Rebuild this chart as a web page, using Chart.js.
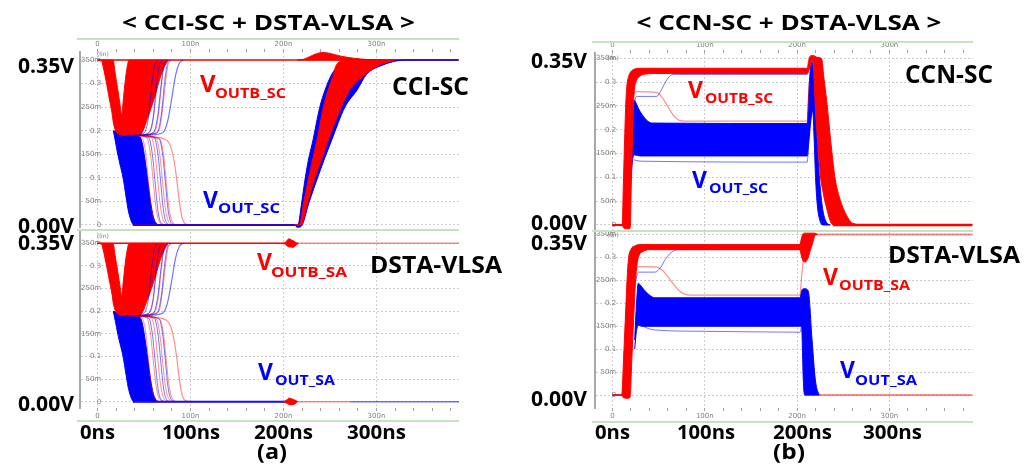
<!DOCTYPE html>
<html>
<head>
<meta charset="utf-8">
<script src="https://cdn.jsdelivr.net/npm/chart.js@4.4.0/dist/chart.umd.min.js"></script>
<style>
  html, body { margin: 0; padding: 0; background: #fff; }
  #fig { position: relative; width: 1035px; height: 468px; overflow: hidden; background: #fff; }
  #fig canvas { position: absolute; }
  .rule { position: absolute; height: 2px; background: #c6e2c0; }
  #labels { position: absolute; left: 0; top: 0; pointer-events: none; }
</style>
</head>
<body>
<div id="fig">
  <canvas id="aTop" width="382" height="189" style="left:77px;top:39px"></canvas>
  <canvas id="aBot" width="382" height="190" style="left:77px;top:231px"></canvas>
  <canvas id="bTop" width="381" height="188" style="left:592px;top:42px"></canvas>
  <canvas id="bBot" width="381" height="190" style="left:592px;top:232px"></canvas>
  <div class="rule" style="left:77px;top:38px;width:382px"></div>
  <div class="rule" style="left:77px;top:229px;width:382px"></div>
  <div class="rule" style="left:77px;top:420px;width:382px"></div>
  <div class="rule" style="left:592px;top:41px;width:381px"></div>
  <div class="rule" style="left:592px;top:230px;width:381px"></div>
  <div class="rule" style="left:592px;top:421px;width:381px"></div>

  <svg id="labels" width="1035" height="468" font-family="'Open Sans','Noto Sans',sans-serif" font-weight="700" fill="#000">
    <text x="268.5" y="30" font-size="21" text-anchor="middle" textLength="293" lengthAdjust="spacingAndGlyphs">&lt; CCI-SC + DSTA-VLSA &gt;</text>
    <text x="789" y="30" font-size="21" text-anchor="middle" textLength="305" lengthAdjust="spacingAndGlyphs">&lt; CCN-SC + DSTA-VLSA &gt;</text>

    <text x="74" y="73" font-size="21" text-anchor="end" textLength="56" lengthAdjust="spacingAndGlyphs">0.35V</text>
    <text x="74" y="233" font-size="21" text-anchor="end" textLength="56" lengthAdjust="spacingAndGlyphs">0.00V</text>
    <text x="74" y="250" font-size="21" text-anchor="end" textLength="56" lengthAdjust="spacingAndGlyphs">0.35V</text>
    <text x="74" y="411" font-size="21" text-anchor="end" textLength="56" lengthAdjust="spacingAndGlyphs">0.00V</text>
    <text x="587" y="68" font-size="21" text-anchor="end" textLength="56" lengthAdjust="spacingAndGlyphs">0.35V</text>
    <text x="587" y="230" font-size="21" text-anchor="end" textLength="56" lengthAdjust="spacingAndGlyphs">0.00V</text>
    <text x="587" y="250" font-size="21" text-anchor="end" textLength="56" lengthAdjust="spacingAndGlyphs">0.35V</text>
    <text x="587" y="406" font-size="21" text-anchor="end" textLength="56" lengthAdjust="spacingAndGlyphs">0.00V</text>

    <text x="97.5" y="439" font-size="20" text-anchor="middle" textLength="35" lengthAdjust="spacingAndGlyphs">0ns</text>
    <text x="191" y="439" font-size="20" text-anchor="middle" textLength="58" lengthAdjust="spacingAndGlyphs">100ns</text>
    <text x="283.5" y="439" font-size="20" text-anchor="middle" textLength="59" lengthAdjust="spacingAndGlyphs">200ns</text>
    <text x="376.5" y="439" font-size="20" text-anchor="middle" textLength="59" lengthAdjust="spacingAndGlyphs">300ns</text>
    <text x="612.5" y="439" font-size="20" text-anchor="middle" textLength="35" lengthAdjust="spacingAndGlyphs">0ns</text>
    <text x="706" y="439" font-size="20" text-anchor="middle" textLength="58" lengthAdjust="spacingAndGlyphs">100ns</text>
    <text x="802.5" y="439" font-size="20" text-anchor="middle" textLength="59" lengthAdjust="spacingAndGlyphs">200ns</text>
    <text x="892.5" y="439" font-size="20" text-anchor="middle" textLength="59" lengthAdjust="spacingAndGlyphs">300ns</text>
    <text x="272" y="459" font-size="21" text-anchor="middle" textLength="30" lengthAdjust="spacingAndGlyphs">(a)</text>
    <text x="789" y="459" font-size="21" text-anchor="middle" textLength="32" lengthAdjust="spacingAndGlyphs">(b)</text>

    <text x="392" y="95" font-size="25" textLength="77" lengthAdjust="spacingAndGlyphs">CCI-SC</text>
    <text x="370" y="273" font-size="23" textLength="132" lengthAdjust="spacingAndGlyphs">DSTA-VLSA</text>
    <text x="905" y="83" font-size="25" textLength="88" lengthAdjust="spacingAndGlyphs">CCN-SC</text>
    <text x="888" y="263" font-size="23" textLength="132" lengthAdjust="spacingAndGlyphs">DSTA-VLSA</text>

    <g fill="#ff0000">
      <text x="200" y="92" font-size="24">V</text>
      <text x="215" y="98" font-size="15" textLength="71" lengthAdjust="spacingAndGlyphs">OUTB_SC</text>
      <text x="257" y="270" font-size="23">V</text>
      <text x="271" y="277" font-size="15" textLength="76" lengthAdjust="spacingAndGlyphs">OUTB_SA</text>
      <text x="688" y="98" font-size="23">V</text>
      <text x="705" y="103" font-size="15" textLength="68" lengthAdjust="spacingAndGlyphs">OUTB_SC</text>
      <text x="823" y="285" font-size="23">V</text>
      <text x="839" y="290" font-size="15" textLength="71" lengthAdjust="spacingAndGlyphs">OUTB_SA</text>
    </g>
    <g fill="#0000ff">
      <text x="203" y="208" font-size="23">V</text>
      <text x="218" y="213" font-size="15" textLength="62" lengthAdjust="spacingAndGlyphs">OUT_SC</text>
      <text x="258" y="380" font-size="23">V</text>
      <text x="275" y="385" font-size="15" textLength="60" lengthAdjust="spacingAndGlyphs">OUT_SA</text>
      <text x="692" y="188" font-size="23">V</text>
      <text x="709" y="193" font-size="15" textLength="59" lengthAdjust="spacingAndGlyphs">OUT_SC</text>
      <text x="840" y="378" font-size="23">V</text>
      <text x="855" y="385" font-size="15" textLength="62" lengthAdjust="spacingAndGlyphs">OUT_SA</text>
    </g>
    <g font-family="'DejaVu Sans',sans-serif" font-weight="400" font-size="6" fill="#7a7a7a">
      <text x="97" y="56">(lin)</text>
      <text x="97" y="238">(lin)</text>
      <text x="607" y="60">(lin)</text>
      <text x="607" y="237">(lin)</text>
    </g>
  </svg>
</div>

<script>
// ---------- axis ticks ----------
const xTicks = [0, 20, 40, 60, 80, 100, 120, 140, 160, 180, 200, 220, 240, 260, 280, 300, 320, 340, 360, 380];
const xTickLabels = { 0: '0', 100: '100n', 200: '200n', 300: '300n' };
const yTickValues = [0, 0.05, 0.1, 0.15, 0.2, 0.25, 0.3, 0.35];
const yTickLabels = ['0', '50m', '0.1', '150m', '0.2', '250m', '0.3', '350m'];

// ---------- (a) CCI-SC / DSTA-VLSA : evaluation phase (t in ns, V in volts) ----------
const aHighHead = [[0, 0.35], [212, 0.35]];
const aHighTail = [[212, 0.35], [389, 0.35]];
const aRedHi = [[0, 0.35], [16.7, 0.35], [19, 0.322], [22, 0.285], [24.5, 0.252], [26, 0.233], [27.5, 0.26], [29.5, 0.3], [31.5, 0.33], [34, 0.35], [76, 0.35]];
const aRedLo = [[0, 0.35], [4, 0.35], [6, 0.337], [8, 0.318], [10, 0.298], [12, 0.276], [14, 0.255], [15.6, 0.238], [17, 0.218], [19, 0.202], [22, 0.194], [30, 0.19], [45, 0.19], [49, 0.2], [53, 0.222], [58, 0.25], [63, 0.282], [67, 0.31], [71, 0.332], [76, 0.35]];
const aBlueHi = [[17, 0.2], [30, 0.192], [45, 0.188], [48, 0.175], [51, 0.14], [54, 0.095], [57, 0.05], [60, 0.018], [63, 0.004], [66, 0]];
const aBlueLo = [[17, 0.2], [19, 0.18], [22, 0.148], [25, 0.122], [27.5, 0.1], [29.5, 0.075], [31.5, 0.05], [33, 0.032], [35, 0.016], [37, 0.005], [39, 0], [66, 0]];
const aLowHead = [[38, 0], [214, 0]];
const aBlueRises = [
  [[40, 0.19], [50, 0.195], [55, 0.23], [58, 0.29], [61, 0.335], [65, 0.35]],
  [[40, 0.19], [55, 0.195], [60, 0.23], [63, 0.29], [66, 0.335], [70, 0.35]],
  [[40, 0.19], [60, 0.195], [65, 0.235], [68, 0.29], [71, 0.335], [75, 0.35]],
  [[40, 0.19], [64, 0.195], [69, 0.24], [72, 0.3], [75, 0.34], [79, 0.35]]
];
const aRedRises = [
  [[45, 0.19], [57, 0.2], [61, 0.24], [64, 0.3], [67, 0.34], [71, 0.35]],
  [[45, 0.19], [62, 0.2], [66, 0.24], [69, 0.3], [72, 0.34], [76, 0.35]],
  [[45, 0.19], [66, 0.2], [70, 0.245], [73, 0.3], [76, 0.34], [80, 0.35]]
];
const aBlueFalls = [
  [[40, 0.19], [55, 0.185], [59, 0.15], [62, 0.09], [65, 0.03], [69, 0.003], [75, 0]],
  [[40, 0.19], [61, 0.185], [65, 0.15], [68, 0.09], [71, 0.03], [75, 0.003], [80, 0]],
  [[40, 0.19], [66, 0.184], [70, 0.15], [73, 0.09], [76, 0.03], [80, 0.003], [85, 0]]
];
const aRedFalls = [
  [[40, 0.19], [48, 0.185], [52, 0.15], [55, 0.09], [58, 0.035], [62, 0.005], [68, 0]],
  [[40, 0.19], [53, 0.185], [57, 0.15], [60, 0.09], [63, 0.035], [67, 0.005], [73, 0]],
  [[40, 0.19], [58, 0.185], [62, 0.15], [65, 0.09], [68, 0.035], [72, 0.005], [78, 0]],
  [[40, 0.19], [63, 0.183], [67, 0.15], [70, 0.09], [73, 0.035], [77, 0.005], [83, 0]],
  [[40, 0.19], [67, 0.182], [71, 0.15], [74, 0.09], [77, 0.035], [81, 0.005], [87, 0]]
];
const aRedOutlier = [[30, 0.19], [47, 0.19], [65, 0.186], [74, 0.18], [78, 0.17], [82, 0.14], [85, 0.1], [88, 0.05], [91, 0.015], [95, 0.002], [102, 0]];
const aBlueOutlier = [[30, 0.19], [47, 0.19], [66, 0.193], [72, 0.2], [76, 0.225], [80, 0.27], [84, 0.318], [88, 0.343], [92, 0.35]];

// CCI-SC restore ramp after 210 ns
const aRampBlueHi = [[212, 0], [215.6, 0], [219, 0.04], [223, 0.095], [227, 0.14], [231.7, 0.18], [239, 0.25], [244.6, 0.286], [252, 0.32], [259, 0.338], [268, 0.35], [388, 0.35]];
const aRampBlueLo = [[212, 0], [215, -0.005], [219.5, -0.002], [227, 0.045], [235.7, 0.095], [244, 0.14], [251.8, 0.18], [266, 0.25], [279, 0.286], [289.5, 0.32], [305, 0.338], [317, 0.346], [330, 0.35], [388, 0.35]];
const aRampRedHi = [[212, 0], [217, 0], [221, 0.04], [226, 0.09], [231, 0.135], [236, 0.18], [243, 0.25], [248, 0.286], [253, 0.315], [257, 0.34], [268, 0.35], [320, 0.35]];
const aRampRedLo = [[212, 0], [219, 0], [225, 0.04], [232, 0.09], [240, 0.135], [248, 0.18], [262, 0.25], [271, 0.286], [285, 0.315], [304, 0.34], [320, 0.35]];
const aBumpHi = [[215, 0.35], [221, 0.351], [228, 0.357], [235, 0.363], [242, 0.366], [250, 0.364], [262, 0.358], [275, 0.354], [290, 0.351], [300, 0.35]];
const aBumpLo = [[215, 0.35], [300, 0.35]];

// DSTA-VLSA glitch at 205-215 ns, then hold
const aGlitchTopHi = [[200, 0.35], [202, 0.352], [204, 0.357], [206, 0.36], [208, 0.358], [210, 0.356], [212, 0.354], [214, 0.351], [216, 0.35]];
const aGlitchTopLo = [[200, 0.35], [202, 0.348], [204, 0.344], [206, 0.342], [208, 0.342], [210, 0.341], [212, 0.343], [214, 0.347], [216, 0.35]];
const aGlitchLowHi = [[200, 0], [203, 0.003], [206, 0.008], [209, 0.006], [212, 0.004], [215, 0]];
const aGlitchLowLo = [[200, 0], [203, -0.003], [206, -0.006], [209, -0.007], [212, -0.005], [215, 0]];
const aLowTailPink = [[212, 0], [272, 0]];
const aLowTailBlue = [[272, 0], [389, 0]];

// ---------- (b) CCN-SC ----------
const bTopRedHi = [[0, 0], [10.5, 0], [11.7, 0.08], [13, 0.17], [14.3, 0.25], [15.5, 0.29], [17.5, 0.312], [20, 0.322], [25, 0.328], [30, 0.329], [211, 0.329], [212.5, 0.345], [214, 0.354], [217, 0.356], [222, 0.352], [226.6, 0.349], [229, 0.31], [232, 0.262], [237.5, 0.157], [241, 0.1], [244.7, 0.066], [249, 0.04], [253.7, 0.02], [258, 0.007], [262.7, 0.002], [270, 0]];
const bTopRedLo = [[0, 0], [10.5, 0], [12, -0.006], [15, -0.008], [18, -0.008], [19.3, -0.004], [20.3, 0.08], [21.5, 0.17], [22.7, 0.25], [23.8, 0.285], [26, 0.303], [30, 0.313], [36, 0.317], [45, 0.318], [211, 0.318], [213, 0.326], [215.5, 0.34], [217.6, 0.345], [218.5, 0.31], [219.4, 0.262], [223, 0.157], [225.5, 0.1], [228.4, 0.066], [232, 0.035], [235.6, 0.01], [239, 0], [270, 0]];
const bTopBlueHi = [[20, 0.12], [22, 0.2], [23.5, 0.262], [25, 0.258], [28, 0.245], [32, 0.232], [36, 0.222], [42.5, 0.214], [211, 0.213], [212.5, 0.27], [214.5, 0.33], [216.5, 0.342], [218.5, 0.3], [220.5, 0.22], [222.5, 0.15], [225, 0.08], [228, 0.03], [232, 0.005], [236, 0]];
const bTopBlueLo = [[20, 0.1], [22, 0.14], [24, 0.147], [30, 0.145], [211, 0.145], [212.5, 0.17], [215, 0.22], [217, 0.24], [218.5, 0.18], [220, 0.1], [222, 0.04], [225, 0.008], [228, 0], [236, 0]];
const bTopBlueLow = [[23, 0.137], [30, 0.134], [211, 0.132], [213, 0.2]];
const bTopBlueRise = [[23, 0.25], [26, 0.27], [48, 0.27], [52, 0.28], [56, 0.295], [60, 0.308], [63, 0.314], [68, 0.316], [211, 0.316], [213, 0.33]];
const bTopRedLine = [[23, 0.275], [26, 0.28], [48, 0.278], [53, 0.27], [57, 0.258], [61, 0.245], [66, 0.23], [71, 0.221], [78, 0.218], [211, 0.218], [213, 0.3]];
const bTopZeroHead = [[0, 0], [11, 0]];
const bTopZeroTail = [[239, 0], [390, 0]];

// ---------- (b) DSTA-VLSA ----------
const bBotRedHi = [[0, 0], [10, 0], [12, 0.08], [14, 0.17], [16, 0.26], [17.5, 0.3], [20, 0.318], [24, 0.325], [30, 0.328], [203, 0.328], [204.5, 0.34], [206, 0.35], [208, 0.353], [219, 0.353], [222, 0.35]];
const bBotRedLo = [[0, 0], [10, 0], [12, -0.006], [17, -0.007], [19, -0.005], [21, 0.08], [23, 0.17], [25, 0.25], [27, 0.29], [29, 0.305], [33, 0.313], [40, 0.317], [203, 0.317], [204.5, 0.305], [206.6, 0.292], [209, 0.29], [212, 0.3], [215, 0.32], [217.4, 0.335], [219.2, 0.348], [222, 0.35]];
const bBotBlueHi = [[24, 0.12], [26, 0.2], [28, 0.244], [30, 0.24], [34, 0.23], [40, 0.218], [46, 0.212], [203, 0.212], [205, 0.228], [208, 0.232], [211, 0.23], [212.6, 0.222], [214, 0.19], [215.5, 0.14], [217, 0.1], [218.5, 0.06], [220, 0.03], [222, 0.01], [224, 0]];
const bBotBlueLo = [[24, 0.1], [26, 0.14], [28, 0.152], [32, 0.15], [203, 0.15], [205, 0.148], [205.8, 0.1], [206.6, 0.04], [207.4, 0.008], [208.5, 0], [224, 0]];
const bBotBlueLow = [[28, 0.155], [35, 0.148], [45, 0.142], [100, 0.139], [203, 0.137], [205, 0.15]];
const bBotBlueRise = [[24, 0.24], [28, 0.268], [46, 0.268], [52, 0.278], [57, 0.295], [62, 0.308], [67, 0.315], [72, 0.317], [203, 0.317], [205, 0.33]];
const bBotRedLine = [[24, 0.27], [28, 0.28], [48, 0.279], [54, 0.272], [60, 0.258], [66, 0.242], [72, 0.228], [78, 0.22], [85, 0.218], [203, 0.218], [205, 0.26], [207, 0.3]];
const bBotZeroHead = [[0, 0], [11, 0]];
const bBotZeroTail = [[208, 0], [390, 0]];
const bBotHighTail = [[219, 0.35], [390, 0.35]];

// ---------- styling ----------
const RED = '#ff0000';
const BLUE = '#0000ff';
const PINK = 'rgba(255,0,0,0.45)';
const BLUE_SOFT = 'rgba(0,0,255,0.55)';
const GRID = '#cdcdcd';

function band(list, hi, lo, color) {
  list.push({ data: hi.slice(), borderColor: color, backgroundColor: color, borderWidth: 1, fill: '+1' });
  list.push({ data: lo.slice(), borderColor: color, backgroundColor: color, borderWidth: 1, fill: false });
}
function trace(list, pts, color, width) {
  list.push({ data: pts.slice(), borderColor: color, backgroundColor: color, borderWidth: width, fill: false });
}

function panel(id, o, sets) {
  // later entries paint on top
  sets.forEach((d, i) => { d.order = sets.length - i; d.pointRadius = 0; d.pointHoverRadius = 0; });
  return new Chart(document.getElementById(id), {
    type: 'line',
    data: { datasets: sets },
    options: {
      responsive: false,
      animation: false,
      devicePixelRatio: 1,
      events: [],
      layout: { padding: { top: o.padTop || 0, right: 0, bottom: 0, left: 0 } },
      plugins: { legend: { display: false }, tooltip: { enabled: false } },
      elements: { point: { radius: 0 }, line: { cubicInterpolationMode: 'monotone', borderJoinStyle: 'round' } },
      scales: {
        x: {
          type: 'linear', position: o.xPos, min: o.x[0], max: o.x[1],
          afterBuildTicks: s => { s.ticks = xTicks.map(v => ({ value: v })); },
          afterFit: s => { s.height = o.xh; s.paddingLeft = 0; s.paddingRight = 0; },
          ticks: {
            autoSkip: false, maxRotation: 0, minRotation: 0, padding: 1,
            font: { size: 7, family: 'DejaVu Sans' }, color: '#808080',
            callback: v => xTickLabels[v] || ''
          },
          grid: {
            color: c => (c.tick && c.tick.value % 100 === 0) ? GRID : 'rgba(0,0,0,0)',
            borderDash: [2, 2], tickColor: '#a0a0a0', tickLength: 3, drawTicks: true
          },
          border: { display: false, dash: [2, 2] }
        },
        y: {
          type: 'linear', min: o.y[0], max: o.y[1],
          afterBuildTicks: s => { s.ticks = yTickValues.map(v => ({ value: v })); },
          afterFit: s => { s.width = 3; s.paddingTop = 0; s.paddingBottom = 0; },
          ticks: {
            mirror: true, crossAlign: 'far', padding: 1,
            font: { size: 7, family: 'DejaVu Sans' }, color: '#808080',
            callback: v => yTickLabels[Math.round(v / 0.05)]
          },
          grid: { color: GRID, borderDash: [2, 2], drawTicks: false },
          border: { display: true, color: '#a3aca3', width: 2, dash: [2, 2] }
        }
      }
    }
  });
}

// ---------- (a) upper: CCI-SC ----------
function evalPhaseA(s) {
  trace(s, aHighHead, RED, 1.5);
  band(s, aBlueHi, aBlueLo, BLUE);
  band(s, aRedHi, aRedLo, RED);
  aBlueFalls.forEach(p => trace(s, p, BLUE_SOFT, 1));
  aRedFalls.forEach(p => trace(s, p, PINK, 1));
  aRedRises.forEach(p => trace(s, p, PINK, 1));
  aBlueRises.forEach(p => trace(s, p, BLUE_SOFT, 1));
  trace(s, aRedOutlier, PINK, 1.2);
  trace(s, aBlueOutlier, BLUE_SOFT, 1.2);
  trace(s, aLowHead, BLUE, 2);
  trace(s, aLowHead, PINK, 1);
}

const setsATop = [];
evalPhaseA(setsATop);
trace(setsATop, aHighTail, RED, 1.5);
band(setsATop, aBumpHi, aBumpLo, RED);
band(setsATop, aRampBlueHi, aRampBlueLo, BLUE);
band(setsATop, aRampRedHi, aRampRedLo, RED);
panel('aTop', { xPos: 'top', xh: 13, x: [-18.8, 388.7], y: [-0.0064, 0.367] }, setsATop);

// ---------- (a) lower: DSTA-VLSA ----------
const setsABot = [];
evalPhaseA(setsABot);
trace(setsABot, aHighTail, PINK, 1.5);
trace(setsABot, aLowTailPink, PINK, 1.5);
trace(setsABot, aLowTailBlue, BLUE_SOFT, 1.5);
band(setsABot, aGlitchTopHi, aGlitchTopLo, RED);
band(setsABot, aGlitchLowHi, aGlitchLowLo, RED);
panel('aBot', { xPos: 'bottom', xh: 13, padTop: 1, x: [-18.8, 388.7], y: [-0.0139, 0.375] }, setsABot);

// ---------- (b) upper: CCN-SC ----------
const setsBTop = [];
trace(setsBTop, bTopZeroHead, RED, 2);
trace(setsBTop, bTopZeroTail, RED, 2.5);
band(setsBTop, bTopBlueHi, bTopBlueLo, BLUE);
trace(setsBTop, bTopBlueLow, BLUE_SOFT, 1);
trace(setsBTop, bTopBlueRise, BLUE_SOFT, 1);
trace(setsBTop, bTopRedLine, PINK, 1.2);
band(setsBTop, bTopRedHi, bTopRedLo, RED);
panel('bTop', { xPos: 'top', xh: 11, x: [-18.96, 390.6], y: [-0.0105, 0.3611] }, setsBTop);

// ---------- (b) lower: DSTA-VLSA ----------
const setsBBot = [];
trace(setsBBot, bBotZeroHead, BLUE_SOFT, 2);
trace(setsBBot, bBotZeroTail, PINK, 2);
trace(setsBBot, bBotHighTail, PINK, 1.8);
band(setsBBot, bBotBlueHi, bBotBlueLo, BLUE);
trace(setsBBot, bBotBlueLow, BLUE_SOFT, 1);
trace(setsBBot, bBotBlueRise, BLUE_SOFT, 1);
trace(setsBBot, bBotRedLine, PINK, 1.2);
band(setsBBot, bBotRedHi, bBotRedLo, RED);
panel('bBot', { xPos: 'bottom', xh: 14, x: [-18.96, 390.6], y: [-0.0283, 0.3555] }, setsBBot);
</script>
</body>
</html>
